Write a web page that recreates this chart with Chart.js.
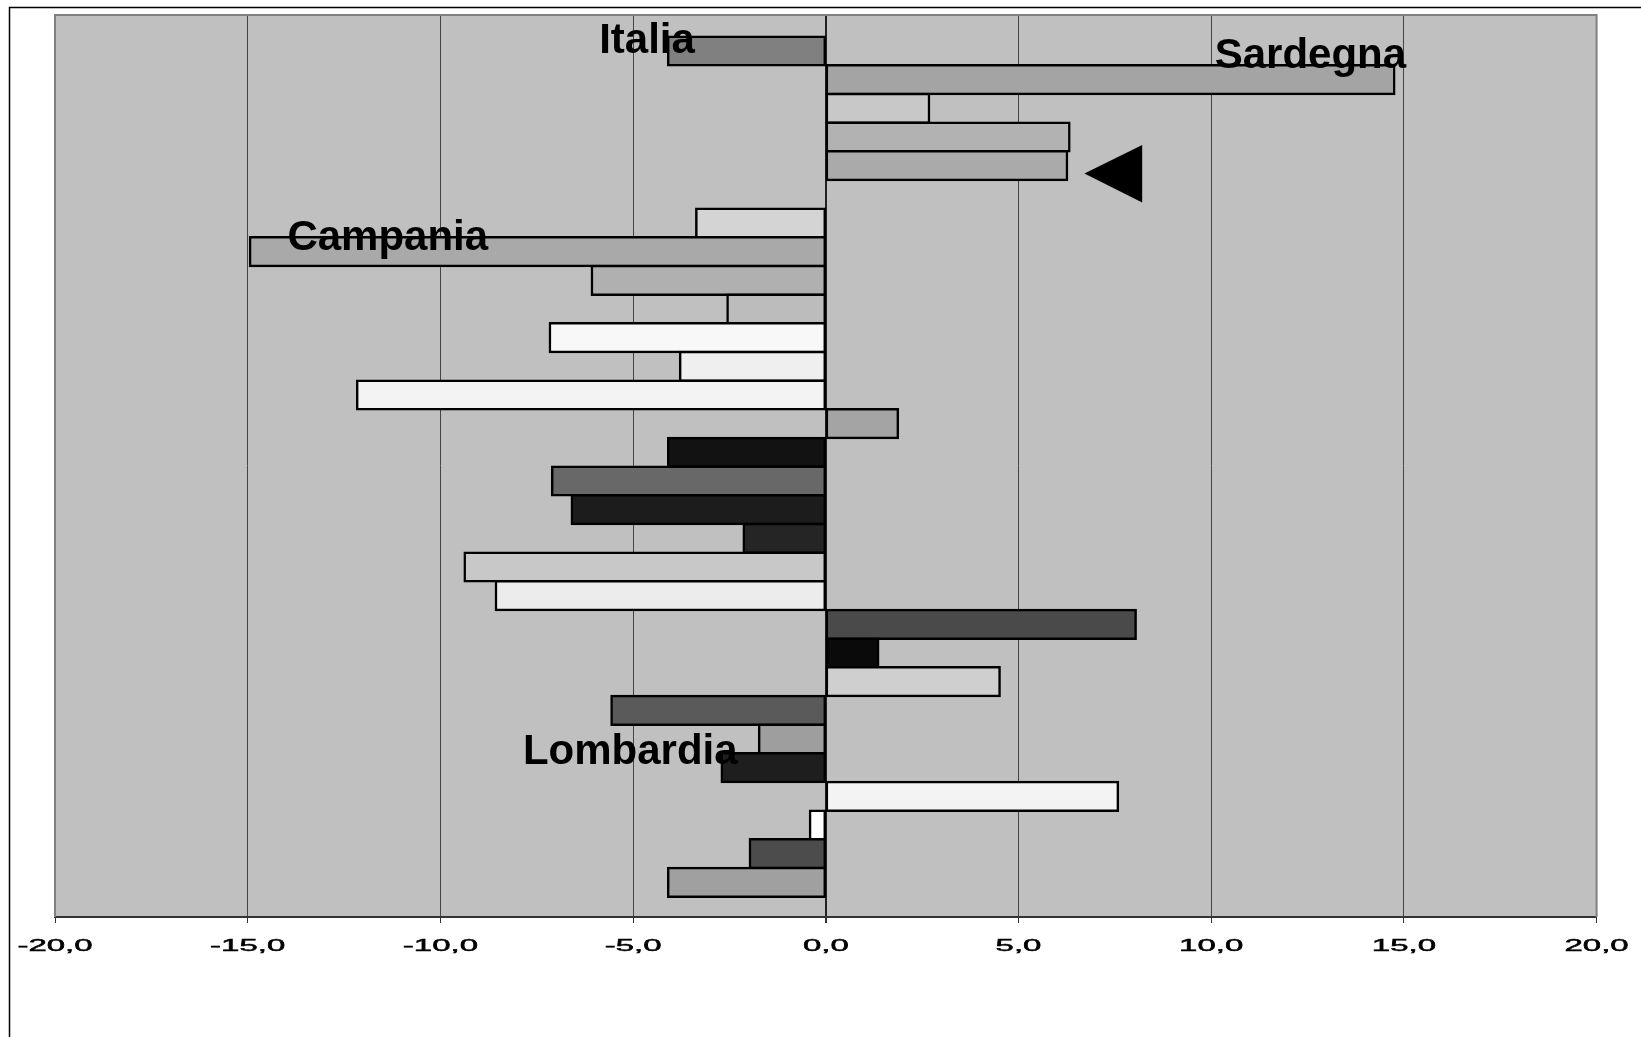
<!DOCTYPE html>
<html>
<head>
<meta charset="utf-8">
<title>Variazioni</title>
<script src="https://cdn.jsdelivr.net/npm/chart.js@4.4.1/dist/chart.umd.min.js"></script>
<style>
  html, body { margin: 0; padding: 0; background: #fff; }
  canvas { display: block; }
</style>
</head>
<body>
<canvas id="chart" width="1641" height="1037"></canvas>
<script>
// rows top to bottom; only four of them carry a name in the picture
const categories = [
  'Italia', 'Sardegna', 'r03', 'r04', 'r05', 'r06', 'r07', 'Campania', 'r09', 'r10',
  'r11', 'r12', 'r13', 'r14', 'r15', 'r16', 'r17', 'r18', 'r19', 'r20',
  'r21', 'r22', 'r23', 'r24', 'r25', 'Lombardia', 'r27', 'r28', 'r29', 'r30'
];

const values = [
  -4.09, 14.75, 2.68, 6.32, 6.26, null, -3.36, -14.94, -6.07, -2.55,
  -7.16, -3.78, -12.16, 1.87, -4.09, -7.10, -6.59, -2.13, -9.37, -8.56,
  8.04, 1.36, 4.51, -5.56, -1.73, -2.70, 7.58, -0.41, -1.97, -4.09
];

const barColors = [
  '#808080', '#a4a4a4', '#c8c8c8', '#b2b2b2', '#aaaaaa', '#c0c0c0', '#d4d4d4', '#a9a9a9', '#b0b0b0', '#bcbcbc',
  '#f8f8f8', '#efefef', '#f3f3f3', '#a4a4a4', '#121212', '#686868', '#1c1c1c', '#252525', '#c8c8c8', '#ececec',
  '#4a4a4a', '#0a0a0a', '#cfcfcf', '#5a5a5a', '#9e9e9e', '#1e1e1e', '#f3f3f3', '#ffffff', '#4c4c4c', '#a0a0a0'
];

// x axis
const xMin = -20;
const xMax = 20;
const xStep = 5;

// text boxes: left edge in axis units, baseline in row units
const callouts = [
  { text: 'Italia', x: -5.88, row: 0.08 },
  { text: 'Sardegna', x: 10.09, row: 0.59 },
  { text: 'Campania', x: -13.97, row: 6.94 },
  { text: 'Lombardia', x: -7.86, row: 24.88 }
];

// arrow pointing at the fifth row
const arrow = { tipX: 6.71, tipRow: 4.27, baseX: 8.21, rowFrom: 3.28, rowTo: 5.28 };

// empty space above the first and below the last row, in rows
const padTop = 0.757;
const padBottom = 0.71;

const fmt = v => v.toFixed(1).replace('.', ',');

const sheetPlugin = {
  id: 'sheet',
  beforeDraw(chart) {
    const { ctx, chartArea: a } = chart;
    ctx.save();
    ctx.fillStyle = '#c0c0c0';
    ctx.fillRect(a.left, a.top, a.right - a.left, a.bottom - a.top);
    ctx.restore();
  },
  afterDatasetsDraw(chart) {
    const { ctx, chartArea: a, scales: { x, y } } = chart;
    ctx.save();
    // plot frame (left, top, right)
    ctx.strokeStyle = '#808080';
    ctx.lineWidth = 2;
    ctx.beginPath();
    ctx.moveTo(a.left, a.bottom);
    ctx.lineTo(a.left, a.top);
    ctx.lineTo(a.right, a.top);
    ctx.lineTo(a.right, a.bottom);
    ctx.stroke();

    // arrow
    ctx.fillStyle = '#000';
    ctx.beginPath();
    ctx.moveTo(x.getPixelForValue(arrow.tipX), y.getPixelForValue(arrow.tipRow));
    ctx.lineTo(x.getPixelForValue(arrow.baseX), y.getPixelForValue(arrow.rowFrom));
    ctx.lineTo(x.getPixelForValue(arrow.baseX), y.getPixelForValue(arrow.rowTo));
    ctx.closePath();
    ctx.fill();

    // callouts
    ctx.font = 'bold 42px "Liberation Sans", Arial, sans-serif';
    ctx.textAlign = 'left';
    ctx.textBaseline = 'alphabetic';
    callouts.forEach(c => {
      ctx.fillText(c.text, x.getPixelForValue(c.x), y.getPixelForValue(c.row));
    });
    ctx.restore();
  },
  afterDraw(chart) {
    const { ctx, chartArea: a, scales: { x } } = chart;
    ctx.save();
    // tick labels, drawn wide like the original
    ctx.fillStyle = '#000';
    ctx.strokeStyle = '#000';
    ctx.lineWidth = 0.5;
    ctx.font = '17px "Liberation Sans", Arial, sans-serif';
    ctx.textAlign = 'center';
    ctx.textBaseline = 'alphabetic';
    x.ticks.forEach(t => {
      ctx.save();
      ctx.translate(x.getPixelForValue(t.value), a.bottom + 33.5);
      ctx.scale(1.94, 1);
      ctx.fillText(fmt(t.value), 0, 0);
      ctx.strokeText(fmt(t.value), 0, 0);
      ctx.restore();
    });
    // outer chart frame
    ctx.strokeStyle = '#000';
    ctx.lineWidth = 1.5;
    ctx.beginPath();
    ctx.moveTo(9.5, chart.height + 5);
    ctx.lineTo(9.5, 7.5);
    ctx.lineTo(chart.width + 5, 7.5);
    ctx.stroke();
    ctx.restore();
  }
};

new Chart(document.getElementById('chart'), {
  type: 'bar',
  data: {
    labels: categories,
    datasets: [{
      data: values,
      backgroundColor: barColors,
      borderColor: '#000',
      borderWidth: 2.5,
      borderSkipped: false,
      inflateAmount: 1.25,
      barPercentage: 1,
      categoryPercentage: 1
    }]
  },
  options: {
    indexAxis: 'y',
    responsive: false,
    animation: false,
    layout: { padding: { left: 55, top: 15, right: 44.4, bottom: 0 } },
    plugins: { legend: { display: false }, tooltip: { enabled: false } },
    scales: {
      x: {
        min: xMin,
        max: xMax,
        ticks: { stepSize: xStep, display: false },
        grid: {
          color: c => c.tick && c.tick.value === 0 ? '#222' : '#444',
          lineWidth: c => c.tick && c.tick.value === 0 ? 2 : 1,
          drawTicks: true,
          tickLength: 6,
          tickColor: '#333'
        },
        border: { display: true, color: '#333', width: 2 },
        afterFit(scale) { scale.height = 120; }
      },
      y: {
        display: false,
        afterBuildTicks(scale) {
          scale._startValue = -0.5 - padTop;
          scale._valueRange = categories.length + padTop + padBottom;
        }
      }
    }
  },
  plugins: [sheetPlugin]
});
</script>
</body>
</html>
